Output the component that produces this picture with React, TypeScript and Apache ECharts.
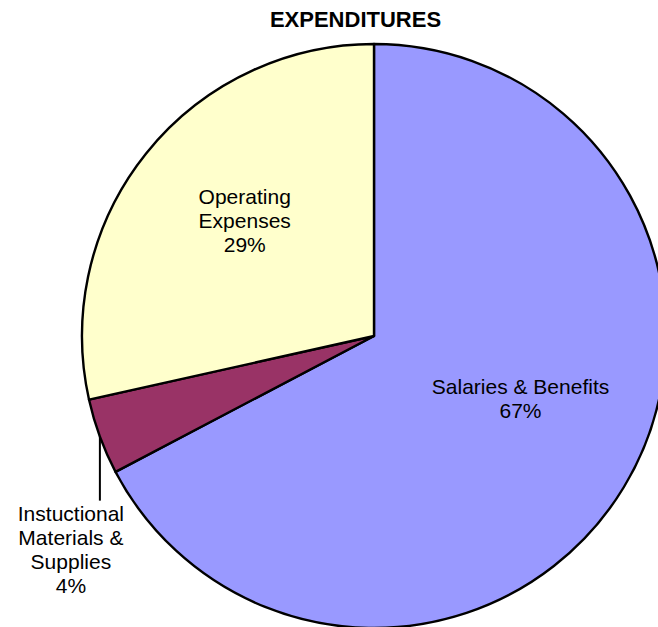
import React, { useEffect, useRef } from "react";
import * as echarts from "echarts";

const titleText = "EXPENDITURES";
const categories = ["Salaries & Benefits", "Instuctional Materials & Supplies", "Operating Expenses"];
const categoryLabels = ["Salaries & Benefits", "Instuctional\nMaterials &\nSupplies", "Operating\nExpenses"];
const values = [67.3, 4.2, 28.5];
const colors = ["#9999FF", "#993366", "#FFFFCC"];

export default function App() {
  const ref = useRef<HTMLDivElement>(null);
  useEffect(() => {
    if (!ref.current) return;
    const chart = echarts.init(ref.current, null, { renderer: "svg" });
    const font = "'Liberation Sans', Arial, Helvetica, sans-serif";
    // label shifts relative to default layout (inside labels)
    const insideShift: Record<number, [number, number]> = {
      0: [19, -15],
      2: [-13, -22],
    };
    chart.setOption({
      animation: false,
      backgroundColor: "#ffffff",
      graphic: [
        {
          type: "text",
          x: 355.5,
          y: 19.5,
          style: {
            text: titleText,
            font: `bold 22px ${font}`,
            fill: "#000",
            align: "center",
            verticalAlign: "middle",
          },
        },
      ],
      series: [
        {
          type: "pie",
          center: [374, 336],
          radius: 292,
          startAngle: 90,
          clockwise: true,
          avoidLabelOverlap: false,
          itemStyle: { borderColor: "#000", borderWidth: 2.4 },
          emphasis: { disabled: true },
          label: {
            show: true,
            position: "inside",
            color: "#000",
            fontFamily: font,
            fontSize: 21,
            lineHeight: 24,
            align: "center",
            formatter: (p: any) => `${categoryLabels[p.dataIndex]}\n${Math.round(p.value)}%`,
          },
          labelLine: { show: false },
          labelLayout: (p: any) => {
            if (p.dataIndex === 1 && p.labelLinePoints) {
              const s = p.labelLinePoints[0];
              return {
                x: s[0] - 29,
                y: s[1] + 113,
                align: "center",
                verticalAlign: "middle",
                labelLinePoints: [
                  [s[0], s[1]],
                  [s[0], s[1] + 64],
                  [s[0], s[1] + 64],
                ],
              };
            }
            const sh = insideShift[p.dataIndex];
            if (sh) return { dx: sh[0], dy: sh[1] };
            return {};
          },
          data: values.map((v, i) => ({
            value: v,
            name: categories[i],
            itemStyle: { color: colors[i] },
            ...(i === 1
              ? {
                  label: { position: "outside" },
                  labelLine: {
                    show: true,
                    length: 20,
                    length2: 10,
                    lineStyle: { color: "#000", width: 2 },
                  },
                }
              : {}),
          })),
        },
      ],
    });
    return () => chart.dispose();
  }, []);
  return (
    <div
      ref={ref}
      style={{ position: "absolute", left: 0, top: 0, width: 658, height: 627 }}
    />
  );
}
